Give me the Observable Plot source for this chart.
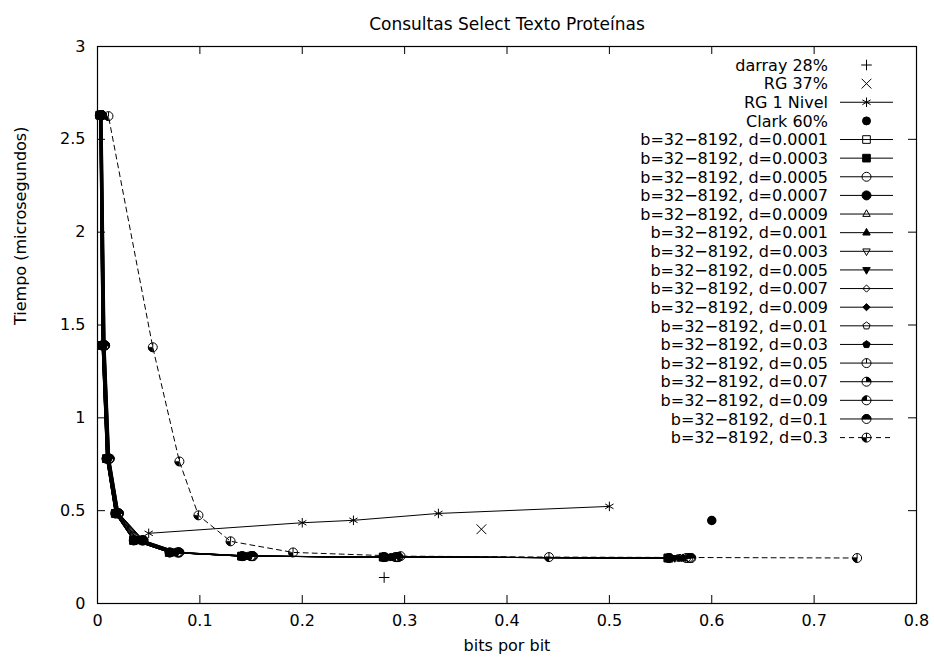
<!DOCTYPE html>
<html><head><meta charset="utf-8">
<script src="https://cdn.jsdelivr.net/npm/d3@7"></script>
<script src="https://cdn.jsdelivr.net/npm/@observablehq/plot@0.6"></script>
<style>body{margin:0;background:#fff} svg{font-family:"DejaVu Sans",sans-serif}</style>
</head><body><div id="chart"></div><script>
const title = "Consultas Select Texto Proteínas";
const xLabel = "bits por bit";
const yLabel = "Tiempo (microsegundos)";
const xTicks = [0, 0.1, 0.2, 0.3, 0.4, 0.5, 0.6, 0.7, 0.8];
const xTickLabels = ["0", "0.1", "0.2", "0.3", "0.4", "0.5", "0.6", "0.7", "0.8"];
const yTicks = [0, 0.5, 1, 1.5, 2, 2.5, 3];
const yTickLabels = ["0", "0.5", "1", "1.5", "2", "2.5", "3"];

// single-point / simple series
const darrayX = [0.28], darrayY = [0.14];
const rg37X = [0.375], rg37Y = [0.40];
const rg1X = [0.05, 0.2, 0.25, 0.333, 0.5], rg1Y = [0.378, 0.435, 0.448, 0.485, 0.523];
const clarkX = [0.6], clarkY = [0.447];

// b = 32 ... 8192 series (x: bits por bit, y: tiempo)
const blockSizes = [32, 64, 128, 256, 512, 1024, 2048, 4096, 8192];
const timeY = [0.245, 0.25, 0.255, 0.275, 0.34, 0.485, 0.78, 1.39, 2.63];
const dLabels = ["0.0001","0.0003","0.0005","0.0007","0.0009","0.001","0.003","0.005","0.007","0.009","0.01","0.03","0.05","0.07","0.09","0.1","0.3"];
const bits_d00001 = [0.557, 0.279, 0.1406, 0.070, 0.035, 0.0173, 0.0087, 0.0044, 0.0022];
const bits_d00003 = [0.5575, 0.2793, 0.1408, 0.0702, 0.0352, 0.0174, 0.0088, 0.0045, 0.0022];
const bits_d00005 = [0.5579, 0.2796, 0.1411, 0.0704, 0.0354, 0.0174, 0.0088, 0.0045, 0.0023];
const bits_d00007 = [0.5584, 0.2799, 0.1413, 0.0706, 0.0356, 0.0175, 0.0089, 0.0046, 0.0023];
const bits_d00009 = [0.5588, 0.2802, 0.1415, 0.0708, 0.0358, 0.0176, 0.0090, 0.0046, 0.0024];
const bits_d0001 = [0.5591, 0.2804, 0.1416, 0.0709, 0.0359, 0.0176, 0.0090, 0.0047, 0.0024];
const bits_d0003 = [0.5616, 0.282, 0.1429, 0.072, 0.037, 0.0180, 0.0094, 0.0050, 0.0027];
const bits_d0005 = [0.5639, 0.2835, 0.144, 0.073, 0.038, 0.0184, 0.0097, 0.0053, 0.0029];
const bits_d0007 = [0.5662, 0.285, 0.1452, 0.074, 0.039, 0.0188, 0.0100, 0.0056, 0.0031];
const bits_d0009 = [0.568, 0.2862, 0.1461, 0.0748, 0.0398, 0.0191, 0.0103, 0.0059, 0.0033];
const bits_d001 = [0.569, 0.2868, 0.1465, 0.0752, 0.0402, 0.0192, 0.0104, 0.0060, 0.0034];
const bits_d003 = [0.572, 0.2888, 0.148, 0.0765, 0.0415, 0.0197, 0.0108, 0.0064, 0.0037];
const bits_d005 = [0.5749, 0.2907, 0.1495, 0.0778, 0.0428, 0.0202, 0.0113, 0.0068, 0.0040];
const bits_d007 = [0.5772, 0.2922, 0.1506, 0.0788, 0.0438, 0.0206, 0.0116, 0.0071, 0.0042];
const bits_d009 = [0.5789, 0.2933, 0.1514, 0.0795, 0.0445, 0.0208, 0.0118, 0.0073, 0.0044];
const bits_d01 = [0.580, 0.294, 0.152, 0.080, 0.045, 0.021, 0.012, 0.0075, 0.0045];
const bits_d03 = [0.742, 0.441, 0.296, 0.191, 0.130, 0.0986, 0.080, 0.054, 0.0107];
const time_d03 = [0.245, 0.25, 0.255, 0.275, 0.335, 0.475, 0.765, 1.38, 2.625];
const bitsByD = [bits_d00001, bits_d00003, bits_d00005, bits_d00007, bits_d00009, bits_d0001, bits_d0003, bits_d0005, bits_d0007, bits_d0009, bits_d001, bits_d003, bits_d005, bits_d007, bits_d009, bits_d01, bits_d03];

// ---- symbols (gnuplot-like) ----
const R = s => Math.sqrt(s / Math.PI);
const S = {
  square: {draw(c, s) { const r = R(s) * 0.85; c.rect(-r, -r, 2 * r, 2 * r); }},
  circle: {draw(c, s) { const r = R(s); c.moveTo(r, 0); c.arc(0, 0, r, 0, 2 * Math.PI); }},
  triUp: {draw(c, s) { const r = R(s) * 0.95; c.moveTo(0, -r); c.lineTo(r * 0.87, r * 0.55); c.lineTo(-r * 0.87, r * 0.55); c.closePath(); }},
  triDown: {draw(c, s) { const r = R(s) * 0.95; c.moveTo(0, r); c.lineTo(r * 0.87, -r * 0.55); c.lineTo(-r * 0.87, -r * 0.55); c.closePath(); }},
  diamond: {draw(c, s) { const r = R(s) * 0.8; c.moveTo(0, -r); c.lineTo(r, 0); c.lineTo(0, r); c.lineTo(-r, 0); c.closePath(); }},
  pentagon: {draw(c, s) { const r = R(s) * 0.85; for (let k = 0; k < 5; k++) { const a = -Math.PI / 2 + k * 2 * Math.PI / 5; k ? c.lineTo(r * Math.cos(a), r * Math.sin(a)) : c.moveTo(r * Math.cos(a), r * Math.sin(a)); } c.closePath(); }},
  c0: {draw(c, s) { const r = R(s); c.moveTo(0, 0); c.lineTo(0, -r); c.moveTo(r, 0); c.arc(0, 0, r, 0, 2 * Math.PI); }},
};
const wedge = (a0, a1) => ({draw(c, s) { const r = R(s); c.moveTo(0, 0); c.arc(0, 0, r, a0, a1); c.closePath(); }});
const PI = Math.PI;
// marker spec per d-series: [symbol, filled, wedgeSymbol]
const dMarkers = [
  [S.square, false], [S.square, true], [S.circle, false], [S.circle, true],
  [S.triUp, false], [S.triUp, true], [S.triDown, false], [S.triDown, true],
  [S.diamond, false], [S.diamond, true], [S.pentagon, false], [S.pentagon, true],
  [S.c0, false], [S.c0, false, wedge(-PI / 2, 0)], [S.c0, false, wedge(-PI, -PI / 2)],
  [S.c0, false, wedge(-PI, 0)], [S.c0, false, wedge(PI / 2, PI)]
];

const W = 934, H = 662, mL = 97, mR = 18, mT = 46, mB = 59;
const innerW = W - mL - mR, innerH = H - mT - mB;
const tick = 8;

const marks = [];
const pts = (xs, ys) => xs.map((x, i) => ({x, y: ys[i]}));
marks.push(Plot.dot(pts(darrayX, darrayY), {x: "x", y: "y", symbol: "plus", r: 3.5, stroke: "black", fill: "none", strokeWidth: 1}));
marks.push(Plot.dot(pts(rg37X, rg37Y), {x: "x", y: "y", symbol: "times", r: 4.5, stroke: "black", fill: "none", strokeWidth: 1}));
marks.push(Plot.line(pts(rg1X, rg1Y), {x: "x", y: "y", stroke: "black", strokeWidth: 1}));
marks.push(Plot.dot(pts(rg1X, rg1Y), {x: "x", y: "y", symbol: "asterisk", r: 4.5, stroke: "black", fill: "none", strokeWidth: 1}));
marks.push(Plot.dot(pts(clarkX, clarkY), {x: "x", y: "y", symbol: "circle", r: 4, stroke: "black", fill: "black"}));
bitsByD.forEach((xs, k) => {
  const ys = k === 16 ? time_d03 : timeY;
  const data = pts(xs, ys);
  marks.push(Plot.line(data, {x: "x", y: "y", stroke: "black", strokeWidth: 1, strokeDasharray: k === 16 ? "5,4" : null}));
  const [sym, filled, wd] = dMarkers[k];
  marks.push(Plot.dot(data, {x: "x", y: "y", symbol: sym, r: 4.5, stroke: "black", fill: filled ? "black" : "none", strokeWidth: 1}));
  if (wd) marks.push(Plot.dot(data, {x: "x", y: "y", symbol: wd, r: 4.5, stroke: "black", fill: "black", strokeWidth: 0.5}));
});

const chart = Plot.plot({
  width: W, height: H,
  marginLeft: mL, marginRight: mR, marginTop: mT, marginBottom: mB,
  style: {fontFamily: "DejaVu Sans", fontSize: "16px", background: "white", color: "black"},
  x: {domain: [0, 0.8]},
  y: {domain: [0, 3]},
  marks: [
    Plot.ruleX(xTicks, {x: d => d, insetTop: innerH - tick, stroke: "black"}),
    Plot.ruleX(xTicks, {x: d => d, insetBottom: innerH - tick, stroke: "black"}),
    Plot.ruleY(yTicks, {y: d => d, insetRight: innerW - tick, stroke: "black"}),
    Plot.ruleY(yTicks, {y: d => d, insetLeft: innerW - tick, stroke: "black"}),
    Plot.axisX({ticks: xTicks, tickFormat: d => xTickLabels[xTicks.indexOf(d)], tickSize: 0, tickPadding: 11, fontSize: 16, label: null}),
    Plot.axisY({ticks: yTicks, tickFormat: d => yTickLabels[yTicks.indexOf(d)], tickSize: 0, tickPadding: 12, fontSize: 16, label: null}),
    ...marks,
    Plot.frame({stroke: "black", strokeWidth: 1.2}),
    Plot.text([title], {text: d => d, frameAnchor: "top", dy: -29, fontSize: 17}),
    Plot.text([xLabel], {text: d => d, frameAnchor: "bottom", dy: 47, fontSize: 16}),
    Plot.text([yLabel], {text: d => d, frameAnchor: "left", rotate: -90, dx: -77, fontSize: 16})
  ]
});
document.getElementById("chart").appendChild(chart);

// ---- legend (gnuplot key, top right inside) ----
const legendRows = [
  {label: "darray 28%", line: false, sym: d3.symbolPlus, size: Math.PI * 3.5 * 3.5, fill: "none"},
  {label: "RG 37%", line: false, sym: d3.symbolTimes, size: Math.PI * 4.5 * 4.5, fill: "none"},
  {label: "RG 1 Nivel", line: true, sym: d3.symbolAsterisk, size: Math.PI * 4.5 * 4.5, fill: "none"},
  {label: "Clark 60%", line: false, sym: S.circle, size: Math.PI * 16, fill: "black"},
  ...dLabels.map((d, k) => ({label: "b=32\u22128192, d=" + d, line: true, dashed: k === 16, sym: dMarkers[k][0], wedge: dMarkers[k][2], size: Math.PI * 4.5 * 4.5, fill: dMarkers[k][1] ? "black" : "none"}))
];
const svg = d3.select(chart.tagName.toLowerCase() === "svg" ? chart : chart.querySelector("svg"));
const lg = svg.append("g").attr("class", "legend");
const textRight = 828, lineX1 = 840, lineX2 = 893, symX = 866.5, row0 = 65, rowH = 18.63;
legendRows.forEach((r, i) => {
  const y = row0 + i * rowH;
  lg.append("text").attr("x", textRight).attr("y", y).attr("dy", "0.36em").attr("text-anchor", "end")
    .attr("font-size", 16).attr("fill", "black").text(r.label);
  if (r.line) lg.append("line").attr("x1", lineX1).attr("x2", lineX2).attr("y1", y).attr("y2", y)
    .attr("stroke", "black").attr("stroke-width", 1).attr("stroke-dasharray", r.dashed ? "5,4" : null);
  lg.append("path").attr("transform", `translate(${symX},${y})`).attr("d", d3.symbol(r.sym, r.size)())
    .attr("fill", r.fill).attr("stroke", "black").attr("stroke-width", 1);
  if (r.wedge) lg.append("path").attr("transform", `translate(${symX},${y})`).attr("d", d3.symbol(r.wedge, r.size)())
    .attr("fill", "black").attr("stroke", "black").attr("stroke-width", 0.5);
});
</script></body></html>
